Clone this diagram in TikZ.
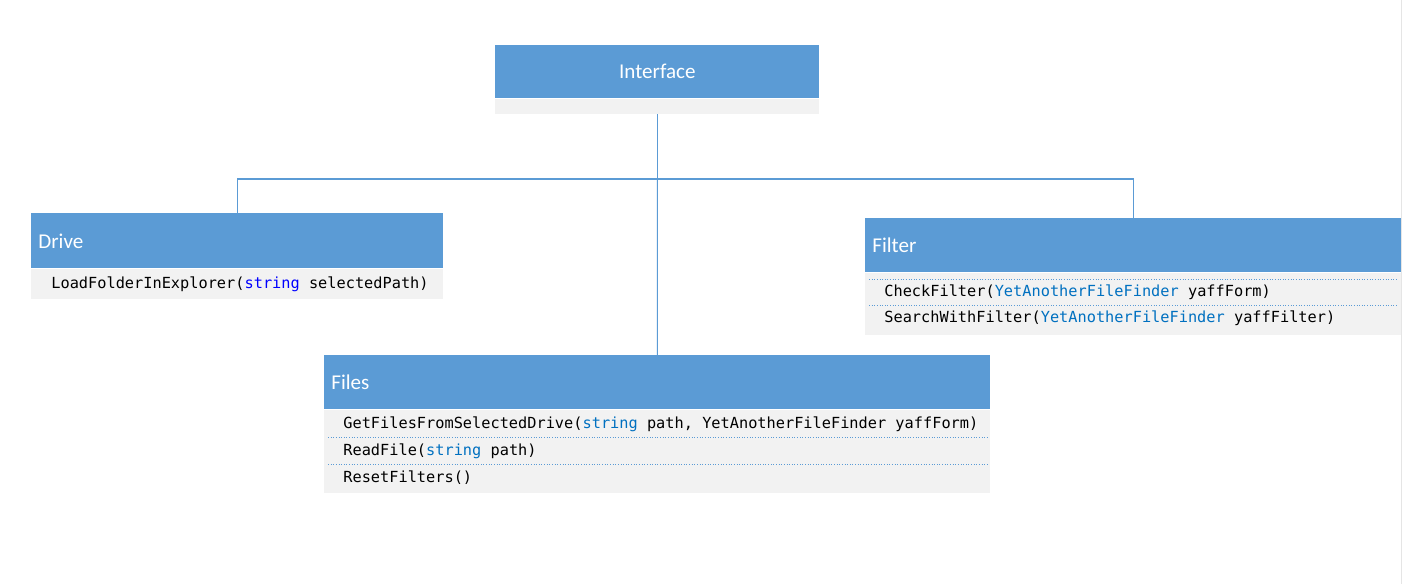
\documentclass[tikz,border=0pt]{standalone}
\usepackage{fontspec}
\setmainfont{Carlito}
\setmonofont{DejaVu Sans Mono}
\usetikzlibrary{positioning}
\definecolor{hdrblue}{HTML}{5B9BD5}
\definecolor{bodygrey}{HTML}{F2F2F2}
\definecolor{kwblue}{HTML}{0000FF}
\definecolor{typeblue}{HTML}{0070C0}
\tikzset{font={\fontsize{12pt}{14}\selectfont}}
\tikzset{
	head/.style={rectangle, fill=hdrblue, text=white, anchor=north west, inner xsep=0.14cm, align=left},
	body/.style={rectangle, fill=bodygrey, inner sep=0pt},
	method/.style={anchor=west, inner sep=0pt, font={\ttfamily\fontsize{8.7pt}{10}\selectfont}},
	sep/.style={hdrblue, densely dotted, line width=0.5pt},
	link/.style={hdrblue, line width=0.6pt}
	}

\begin{document}
\begin{tikzpicture}[x=0.02cm, y=-0.02cm]
                \useasboundingbox (0,0) rectangle (1419,584);
                \draw[black!10] (1401.5,0) -- (1401.5,584);
                % classes
                \node (ifacehead) [head, align=center, text width=6.2cm, minimum height=1.06cm] at (495,45) {Interface};
                \node (ifacebody) [body, minimum width=6.48cm, minimum height=0.3cm, below=0pt of ifacehead] {};
                \node (drivehead) [head, text width=7.96cm, minimum height=1.1cm] at (31,213) {Drive};
                \node (drivebody) [body, minimum width=8.24cm, minimum height=0.6cm, below=0pt of drivehead] {};
                \node (filterhead) [head, text width=10.44cm, minimum height=1.08cm] at (865,218) {Filter};
                \node (filterbody) [body, minimum width=10.72cm, minimum height=1.24cm, below=0pt of filterhead] {};
                \node (fileshead) [head, text width=13.04cm, minimum height=1.08cm] at (324,355) {Files};
                \node (filesbody) [body, minimum width=13.32cm, minimum height=1.66cm, below=0pt of fileshead] {};
                % methods
                \node (drivem) [method] at (51,284) {LoadFolderInExplorer(\textcolor{kwblue}{string} selectedPath)};
                \draw[sep] (869,279.5) -- (1397,279.5);
                \node (filterma) [method] at (884,292) {CheckFilter(\textcolor{typeblue}{YetAnotherFileFinder} yaffForm)};
                \draw[sep] (869,305.5) -- (1397,305.5);
                \node (filtermb) [method] at (884,318) {SearchWithFilter(\textcolor{typeblue}{YetAnotherFileFinder} yaffFilter)};
                \node (filesma) [method] at (343,424) {GetFilesFromSelectedDrive(\textcolor{typeblue}{string} path, YetAnotherFileFinder yaffForm)};
                \draw[sep] (328,437.5) -- (987,437.5);
                \node (filesmb) [method] at (343,451) {ReadFile(\textcolor{typeblue}{string} path)};
                \draw[sep] (328,464.5) -- (987,464.5);
                \node (filesmc) [method] at (343,478) {ResetFilters()};
                % connectors
                \coordinate (hub) at (ifacebody.south |- 0,179);
                \draw[link] (ifacebody.south) -- (hub);
                \draw[link] (drivehead.north) |- (hub) -| (filterhead.north);
                \draw[link] (hub) -- (fileshead.north);
            \end{tikzpicture}
\end{document}
